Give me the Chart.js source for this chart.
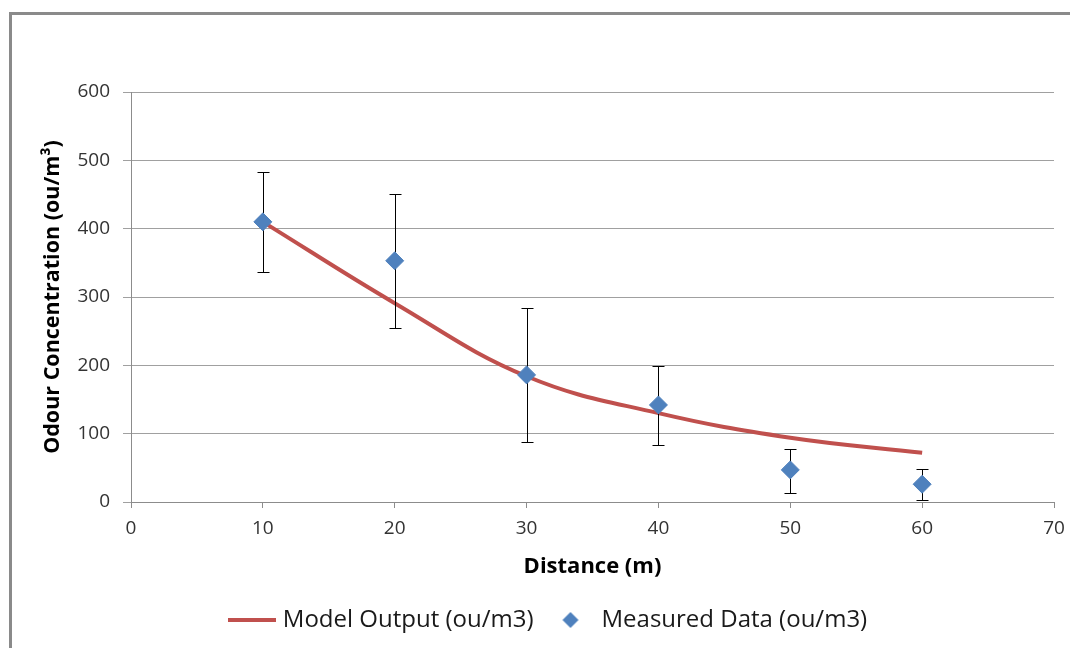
<!DOCTYPE html>
<html>
<head>
<meta charset="utf-8">
<title>Odour Concentration vs Distance</title>
<script src="https://cdn.jsdelivr.net/npm/chart.js@4.4.1/dist/chart.umd.min.js"></script>
<style>
  html, body { margin: 0; padding: 0; background: #fff; overflow: hidden; }
  #frame {
    position: absolute; left: 9px; top: 12px; width: 1080px; height: 660px;
    border-left: 3px solid #8a8a8a; border-top: 3px solid #8a8a8a;
  }
  #chart { position: absolute; left: 0; top: 0; }
</style>
</head>
<body>
<div id="frame"></div>
<canvas id="chart" width="1070" height="648"></canvas>
<script>
// ── Data ──────────────────────────────────────────────────────────────────────
const distances     = [10, 20, 30, 40, 50, 60];
const modelOutput   = [410, 291, 184, 130, 94, 72];
const measured      = [410, 353, 186, 142, 47, 26];
const measuredLow   = [337, 255, 88, 83, 13, 3];
const measuredHigh  = [483, 451, 284, 199, 78, 48];
const xTicks        = [0, 10, 20, 30, 40, 50, 60, 70];
const yTicks        = [0, 100, 200, 300, 400, 500, 600];

const RED   = '#C0504D';
const BLUE  = '#4F81BD';
const FONT  = "'Open Sans', 'Noto Sans', sans-serif";

// ── Legend symbols ────────────────────────────────────────────────────────────
function lineSymbol() {
  const c = document.createElement('canvas');
  c.width = 48; c.height = 4;
  const g = c.getContext('2d');
  g.fillStyle = RED;
  g.fillRect(0, 0, 48, 4);
  return c;
}

function diamondSymbol() {
  const c = document.createElement('canvas');
  c.width = 18; c.height = 18;
  const g = c.getContext('2d');
  g.fillStyle = BLUE;
  g.beginPath();
  g.moveTo(1, 9); g.lineTo(9, 1); g.lineTo(17, 9); g.lineTo(9, 17);
  g.closePath();
  g.fill();
  return c;
}

const legendSymbols = [lineSymbol(), diamondSymbol()];

// ── Error bars, drawn under the measured diamonds ─────────────────────────────
const errorBars = {
  id: 'errorBars',
  beforeDatasetDraw(chart, args) {
    if (args.index !== 1) return;
    const { ctx, scales: { x, y } } = chart;
    ctx.save();
    ctx.strokeStyle = '#000';
    ctx.lineWidth = 1;
    distances.forEach((d, i) => {
      const px = Math.round(x.getPixelForValue(d)) + 0.5;
      const top = Math.round(y.getPixelForValue(measuredHigh[i])) + 0.5;
      const bot = Math.round(y.getPixelForValue(measuredLow[i])) + 0.5;
      ctx.beginPath();
      ctx.moveTo(px, top); ctx.lineTo(px, bot);
      ctx.moveTo(px - 6, top); ctx.lineTo(px + 6, top);
      ctx.moveTo(px - 6, bot); ctx.lineTo(px + 6, bot);
      ctx.stroke();
    });
    ctx.restore();
  }
};

// ── Chart ─────────────────────────────────────────────────────────────────────
// left padding + y-axis width puts the plot edge at x=131; the padding also
// nudges the centred legend to the right
new Chart(document.getElementById('chart'), {
  type: 'line',
  data: {
    datasets: [
      {
        label: 'Model Output (ou/m3)',
        data: distances.map((d, i) => ({ x: d, y: modelOutput[i] })),
        borderColor: RED,
        backgroundColor: RED,
        borderWidth: 4,
        pointRadius: 0,
        tension: 0.4,
        order: 1,
      },
      {
        label: 'Measured Data (ou/m3)',
        data: distances.map((d, i) => ({ x: d, y: measured[i] })),
        showLine: false,
        pointStyle: 'rectRot',
        pointRadius: 9,
        pointBorderWidth: 1,
        pointBackgroundColor: BLUE,
        pointBorderColor: BLUE,
        borderColor: BLUE,
        backgroundColor: BLUE,
        order: 0,
      }
    ]
  },
  options: {
    responsive: false,
    animation: false,
    devicePixelRatio: 1,
    layout: { padding: { top: 92, right: 16, bottom: 6, left: 46 } },
    plugins: {
      tooltip: { enabled: false },
      legend: {
        position: 'bottom',
        labels: {
          usePointStyle: true,
          pointStyleWidth: 38,
          padding: 18,
          color: '#1a1a1a',
          font: { family: FONT, size: 24 },
          sort: (a, b) => a.datasetIndex - b.datasetIndex,
          generateLabels(chart) {
            const items = Chart.defaults.plugins.legend.labels.generateLabels(chart);
            items.forEach(it => { it.pointStyle = legendSymbols[it.datasetIndex]; });
            return items;
          }
        }
      }
    },
    scales: {
      x: {
        type: 'linear',
        min: 0, max: 70,
        afterBuildTicks: s => { s.ticks = xTicks.map(v => ({ value: v })); },
        afterFit: s => { s.height = 88; s.paddingLeft = 0; s.paddingRight = 0; },
        ticks: { color: '#333', padding: 9, font: { family: FONT, size: 19 } },
        grid: { drawOnChartArea: false, drawTicks: true, tickLength: 6, color: '#8c8c8c' },
        border: { color: '#8c8c8c' },
        title: {
          display: true, text: 'Distance (m)', color: '#000',
          font: { family: FONT, size: 22, weight: 'bold' },
          padding: { top: 0, bottom: 10 }
        }
      },
      y: {
        min: 0, max: 600,
        afterBuildTicks: s => { s.ticks = yTicks.map(v => ({ value: v })); },
        afterFit: s => { s.width = 85; },
        ticks: { color: '#333', padding: 13, font: { family: FONT, size: 19 } },
        grid: { color: '#a0a0a0', tickLength: 8 },
        border: { color: '#8c8c8c' },
        title: {
          display: true, text: 'Odour Concentration (ou/m³)', color: '#000',
          font: { family: FONT, size: 21.5, weight: 'bold' },
          padding: { top: -6, bottom: 0 }
        }
      }
    }
  },
  plugins: [errorBars]
});
</script>
</body>
</html>
